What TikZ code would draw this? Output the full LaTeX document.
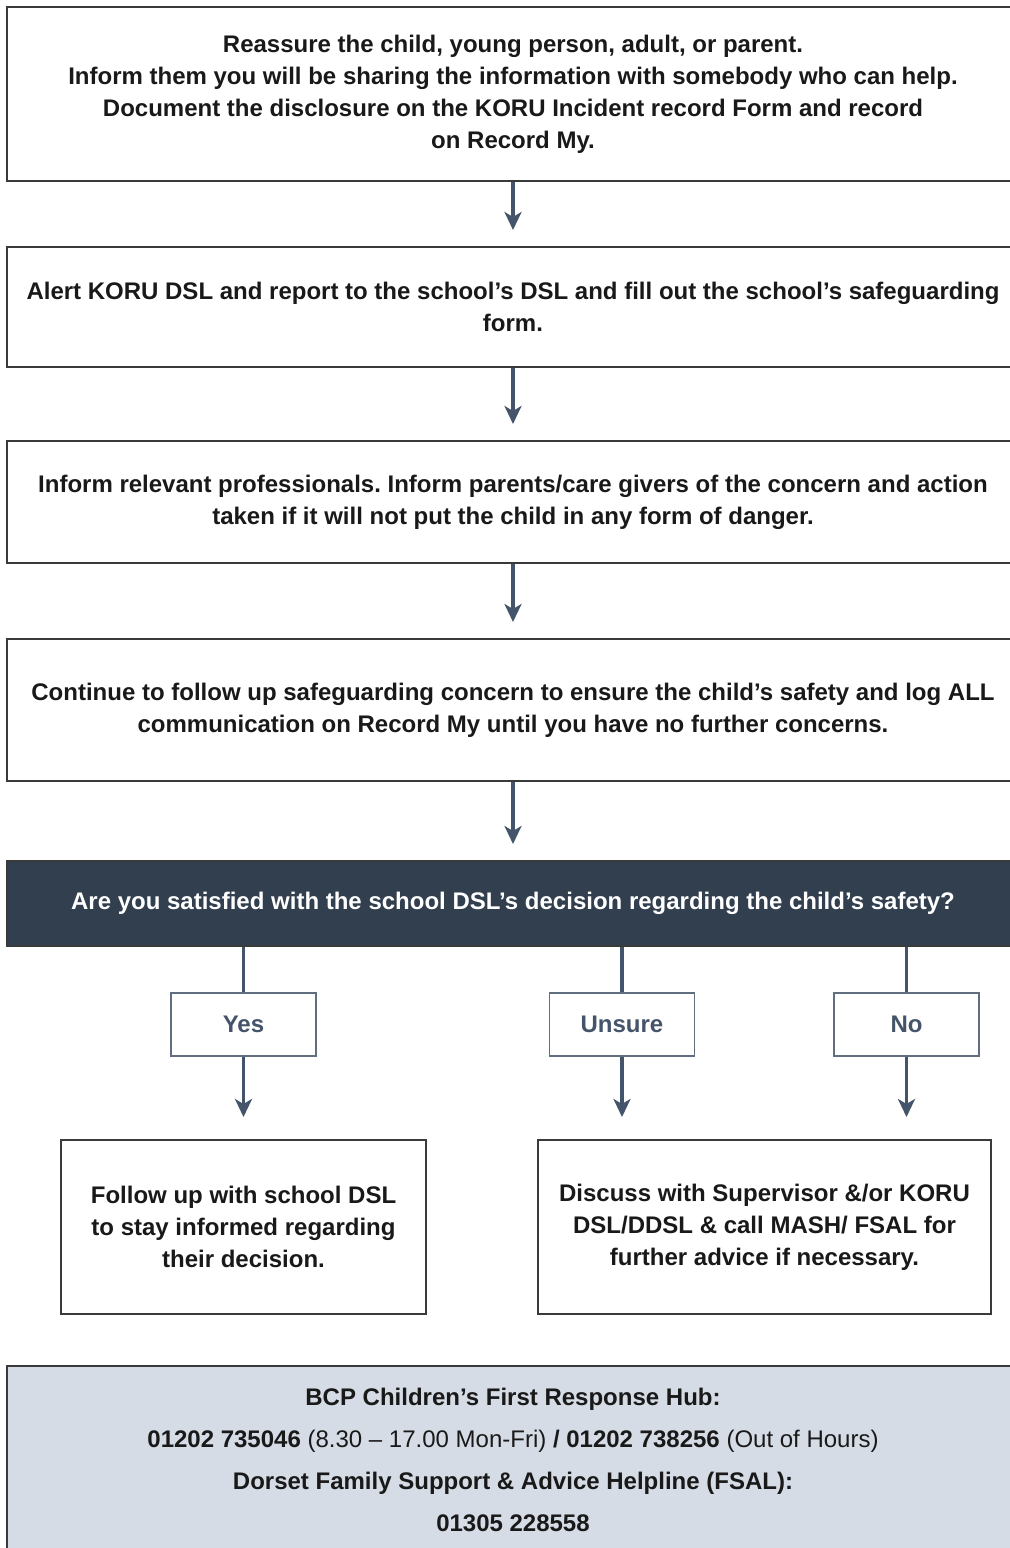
\documentclass[tikz,border=0pt]{standalone}
\usepackage{fontspec}
\setmainfont{Liberation Sans}
\usetikzlibrary{arrows.meta}
\definecolor{koruDark}{HTML}{323F4F}
\definecolor{koruSlate}{HTML}{44546A}
\definecolor{koruPale}{HTML}{D6DCE5}
\definecolor{koruLine}{HTML}{3A3A3A}
\frenchspacing

\begin{document}
\begin{tikzpicture}[x=0.5pt,y=-0.5pt,>={Stealth[length=9pt,width=8.5pt,inset=2.5pt]},
  font=\fontsize{12}{16}\selectfont\bfseries,
  stepbox/.style={draw=koruLine,line width=1pt,fill=white,align=center,inner sep=0pt,text=black!90},
  ansbox/.style={draw=koruSlate!85,line width=0.8pt,fill=white,minimum width=72.5pt,minimum height=31.5pt,text=koruSlate},
  flow/.style={->,draw=koruSlate,line width=1.7pt,shorten >=8pt},
  link/.style={draw=koruSlate,line width=1.7pt}]
\useasboundingbox (0,0) rectangle (1009,1548);
% main steps
\node[stepbox,minimum width=506pt,minimum height=87pt] (reassure) at (513,94)
  {Reassure the child, young person, adult, or parent.\\
   Inform them you will be sharing the information with somebody who can help.\\
   Document the disclosure on the KORU Incident record Form and record\\
   on Record My.};
\node[stepbox,minimum width=506pt,minimum height=60pt] (alert) at (513,307)
  {Alert KORU DSL and report to the school’s DSL and fill out the school’s safeguarding\\
   form.};
\node[stepbox,minimum width=506pt,minimum height=61pt] (inform) at (513,502)
  {Inform relevant professionals. Inform parents/care givers of the concern and action\\
   taken if it will not put the child in any form of danger.};
\node[stepbox,minimum width=506pt,minimum height=71pt] (continue) at (513,710)
  {Continue to follow up safeguarding concern to ensure the child’s safety and log ALL\\
   communication on Record My until you have no further concerns.};
\node[stepbox,fill=koruDark,text=white,minimum width=506pt,minimum height=42.5pt] (decide) at (513,903.5)
  {Are you satisfied with the school DSL’s decision regarding the child’s safety?};
% answers
\node[ansbox] (yes) at (243.5,1024.5) {Yes};
\node[ansbox] (unsure) at (622,1024.5) {Unsure};
\node[ansbox] (no) at (906.5,1024.5) {No};
\node[stepbox,minimum width=182.5pt,minimum height=87pt] (follow) at (243.5,1227)
  {Follow up with school DSL\\ to stay informed regarding\\ their decision.};
\node[stepbox,minimum width=226.5pt,minimum height=87pt] (discuss) at (764.5,1227)
  {Discuss with Supervisor \&/or KORU\\ DSL/DDSL \& call MASH/ FSAL for\\ further advice if necessary.};
% helplines
\node[stepbox,fill=koruPale,minimum width=506pt,minimum height=93.5pt,
  font=\fontsize{12}{21}\selectfont] (hub) at (513,1459.5)
  {\textbf{BCP Children’s First Response Hub:}\\
   \textbf{01202 735046} (8.30 – 17.00 Mon-Fri) \textbf{/ 01202 738256} (Out of Hours)\\
   \textbf{Dorset Family Support \& Advice Helpline (FSAL):}\\
   \textbf{01305 228558}};
% connectors
\draw[flow] (reassure) -- (alert);
\draw[flow] (alert) -- (inform);
\draw[flow] (inform) -- (continue);
\draw[flow] (continue) -- (decide);
\draw[link] (yes.north |- decide.south) -- (yes);
\draw[link] (unsure.north |- decide.south) -- (unsure);
\draw[link] (no.north |- decide.south) -- (no);
\draw[flow,shorten >=11pt] (yes) -- (follow);
\draw[flow,shorten >=11pt] (unsure) -- (unsure |- discuss.north);
\draw[flow,shorten >=11pt] (no) -- (no |- discuss.north);
\end{tikzpicture}
\end{document}
